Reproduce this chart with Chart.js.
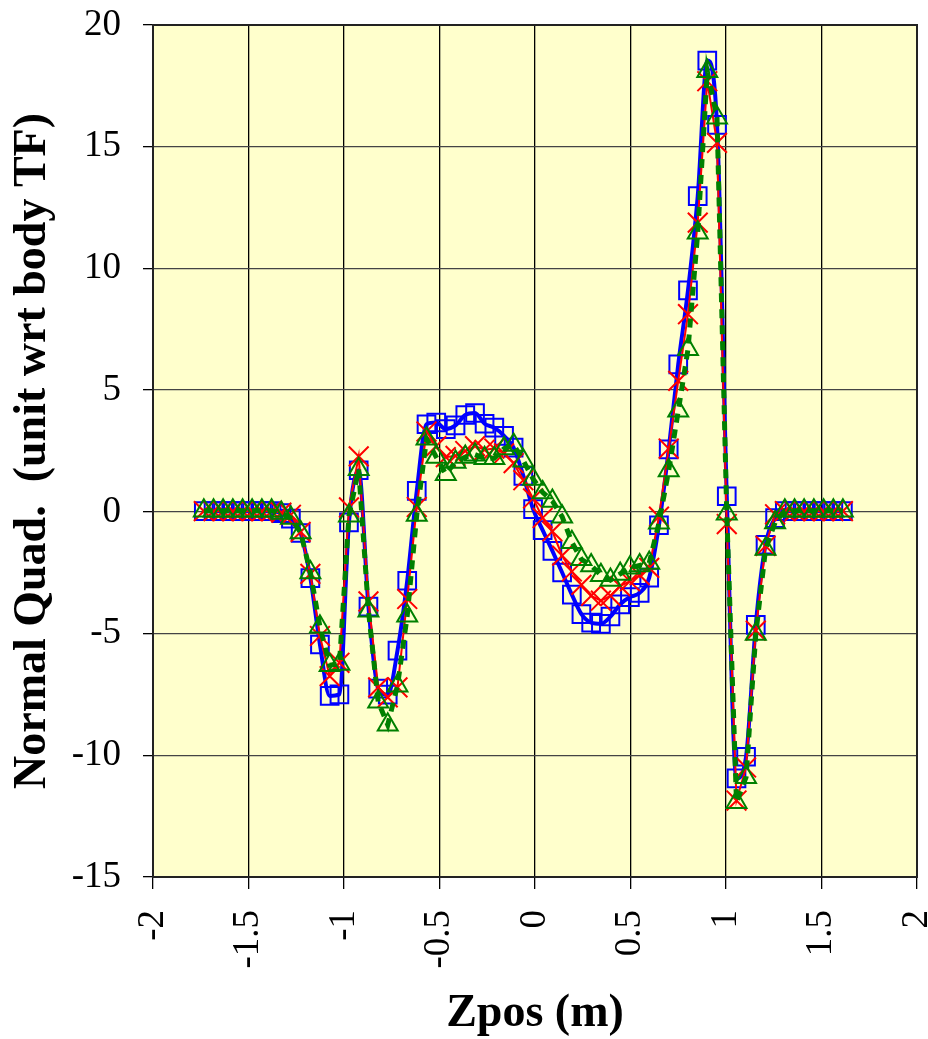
<!DOCTYPE html>
<html>
<head>
<meta charset="utf-8">
<script src="https://cdn.jsdelivr.net/npm/chart.js@4.4.0/dist/chart.umd.min.js"></script>
<style>
  html, body { margin: 0; padding: 0; background: #fff; }
  canvas { display: block; }
</style>
</head>
<body>
<canvas id="quadChart" width="928" height="1039"></canvas>
<script>
// Z positions (m)
const zpos = [
  -1.734, -1.683, -1.633, -1.582, -1.531, -1.481, -1.430, -1.379, -1.328, -1.278,
  -1.227, -1.176, -1.126, -1.075, -1.024, -0.974, -0.923, -0.872, -0.821, -0.771,
  -0.720, -0.669, -0.619, -0.568, -0.517, -0.467, -0.416, -0.365, -0.314, -0.264,
  -0.213, -0.162, -0.112, -0.061, -0.010, 0.040, 0.091, 0.142, 0.193, 0.243,
  0.294, 0.345, 0.395, 0.446, 0.497, 0.548, 0.598, 0.649, 0.700, 0.750,
  0.801, 0.852, 0.902, 0.953, 1.004, 1.055, 1.105, 1.156, 1.207, 1.257,
  1.308, 1.359, 1.409, 1.460, 1.511, 1.562, 1.612
];

// blue squares
const quadSquares = [
  0.03, 0.03, 0.03, 0.03, 0.03, 0.03, 0.03, 0.03, -0.05, -0.28,
  -0.87, -2.72, -5.45, -7.56, -7.50, -0.43, 1.71, -3.89, -7.26, -7.51,
  -5.70, -2.83, 0.86, 3.60, 3.67, 3.40, 3.55, 3.98, 4.06, 3.62,
  3.46, 3.12, 2.64, 1.48, 0.11, -0.75, -1.60, -2.49, -3.40, -4.20,
  -4.55, -4.60, -4.30, -3.80, -3.50, -3.33, -2.70, -0.55, 2.57, 6.06,
  9.10, 12.97, 18.54, 15.90, 0.64, -10.95, -10.06, -4.64, -1.35, -0.26,
  0.03, 0.03, 0.03, 0.03, 0.03, 0.03, 0.03
];

// red crosses
const quadCrosses = [
  0.03, 0.03, 0.03, 0.03, 0.03, 0.03, 0.03, 0.03, -0.03, -0.12,
  -0.82, -2.55, -5.10, -6.75, -6.20, 0.18, 2.28, -3.68, -7.21, -7.62,
  -7.21, -3.58, 0.20, 3.30, 2.70, 2.25, 2.30, 2.50, 2.70, 2.55,
  2.60, 2.40, 2.00, 1.30, 0.55, -0.25, -0.80, -1.80, -2.45, -3.00,
  -3.45, -3.65, -3.45, -3.05, -2.85, -2.60, -2.30, -0.20, 2.60, 5.38,
  8.12, 11.88, 17.69, 15.16, -0.50, -11.86, -10.50, -4.88, -1.40, -0.10,
  0.03, 0.03, 0.03, 0.03, 0.03, 0.03, 0.03
];

// green triangles
const quadTriangles = [
  0.05, 0.05, 0.05, 0.05, 0.05, 0.05, 0.05, 0.05, -0.05, -0.25,
  -0.85, -2.49, -4.72, -6.30, -6.25, -0.16, 1.75, -4.06, -7.80, -8.75,
  -7.14, -4.27, -0.13, 3.00, 2.25, 1.55, 2.05, 2.25, 2.35, 2.20,
  2.20, 2.60, 2.75, 2.10, 1.35, 0.80, 0.45, -0.20, -1.25, -1.95,
  -2.20, -2.60, -2.80, -2.55, -2.30, -2.20, -2.10, -0.45, 1.70, 4.15,
  6.68, 11.47, 18.10, 16.19, -0.08, -11.93, -10.90, -5.02, -1.53, -0.44,
  0.05, 0.05, 0.05, 0.05, 0.05, 0.05, 0.05
];

function toPoints(values) {
    return zpos.map((z, i) => ({ x: z, y: values[i] }));
}

// white page + pale yellow plot area + frame
const plotBackground = {
    id: 'plotBackground',
    beforeDraw(chart) {
        const { ctx, chartArea: a } = chart;
        ctx.save();
        ctx.fillStyle = '#ffffff';
        ctx.fillRect(0, 0, chart.width, chart.height);
        ctx.fillStyle = '#ffffcc';
        ctx.fillRect(a.left, a.top, a.right - a.left, a.bottom - a.top);
        ctx.restore();
    },
    beforeDatasetsDraw(chart) {
        const { ctx, chartArea: a } = chart;
        ctx.save();
        ctx.strokeStyle = '#222';
        ctx.lineWidth = 2;
        ctx.strokeRect(a.left, a.top, a.right - a.left, a.bottom - a.top);
        ctx.restore();
    }
};

const serif = "'Liberation Serif', 'Times New Roman', serif";

const ctx = document.getElementById('quadChart').getContext('2d');
const quadChart = new Chart(ctx, {
    type: 'line',
    data: {
        datasets: [
            {
                label: 'Series 1',
                data: toPoints(quadSquares),
                borderColor: '#0000ff',
                borderWidth: 4,
                cubicInterpolationMode: 'monotone',
                pointStyle: 'rect',
                pointRadius: 12.5,
                pointBorderWidth: 2,
                pointBorderColor: '#0000ff',
                pointBackgroundColor: 'rgba(0,0,0,0)',
                order: 3
            },
            {
                label: 'Series 2',
                data: toPoints(quadCrosses),
                borderColor: '#ff0000',
                borderWidth: 2,
                pointStyle: 'crossRot',
                pointRadius: 14,
                pointBorderWidth: 2,
                pointBorderColor: '#ff0000',
                pointBackgroundColor: 'rgba(0,0,0,0)',
                order: 2
            },
            {
                label: 'Series 3',
                data: toPoints(quadTriangles),
                borderColor: '#008000',
                borderWidth: 5,
                borderDash: [9, 7],
                pointStyle: 'triangle',
                pointRadius: 11.5,
                pointBorderWidth: 2,
                pointBorderColor: '#008000',
                pointBackgroundColor: 'rgba(0,0,0,0)',
                order: 1
            }
        ]
    },
    options: {
        responsive: false,
        animation: false,
        devicePixelRatio: 1,
        layout: {
            autoPadding: false,
            padding: { left: 0, right: 11, top: 25, bottom: 0 }
        },
        plugins: {
            legend: { display: false },
            tooltip: { enabled: false }
        },
        scales: {
            x: {
                type: 'linear',
                min: -2,
                max: 2,
                ticks: {
                    stepSize: 0.5,
                    minRotation: 90,
                    maxRotation: 90,
                    padding: 21,
                    color: '#000',
                    font: { family: serif, size: 37, lineHeight: 1 },
                    callback: (value) => String(value)
                },
                grid: {
                    color: '#000',
                    lineWidth: 1.3,
                    tickLength: 12,
                    tickColor: '#000'
                },
                border: { display: true, color: '#000', width: 2 },
                title: {
                    display: true,
                    text: 'Zpos (m)',
                    color: '#000',
                    font: { family: serif, size: 46, weight: 'bold', lineHeight: 1 },
                    padding: { top: 0, bottom: 2 }
                },
                afterFit(scale) {
                    scale.height = 162;
                    scale.paddingLeft = 0;
                    scale.paddingRight = 0;
                }
            },
            y: {
                type: 'linear',
                min: -15,
                max: 20,
                ticks: {
                    stepSize: 5,
                    padding: 22,
                    color: '#000',
                    font: { family: serif, size: 37, lineHeight: 1 }
                },
                grid: {
                    color: '#444',
                    lineWidth: 1.3,
                    tickLength: 10,
                    tickColor: '#000'
                },
                border: { display: true, color: '#000', width: 2 },
                title: {
                    display: true,
                    text: 'Normal Quad.  (unit wrt body TF)',
                    color: '#000',
                    font: { family: serif, size: 46, weight: 'bold', lineHeight: 1 },
                    padding: { top: 10, bottom: 0 }
                },
                afterFit(scale) {
                    scale.width = 153;
                    scale.paddingTop = 0;
                    scale.paddingBottom = 0;
                }
            }
        }
    },
    plugins: [plotBackground]
});
</script>
</body>
</html>
